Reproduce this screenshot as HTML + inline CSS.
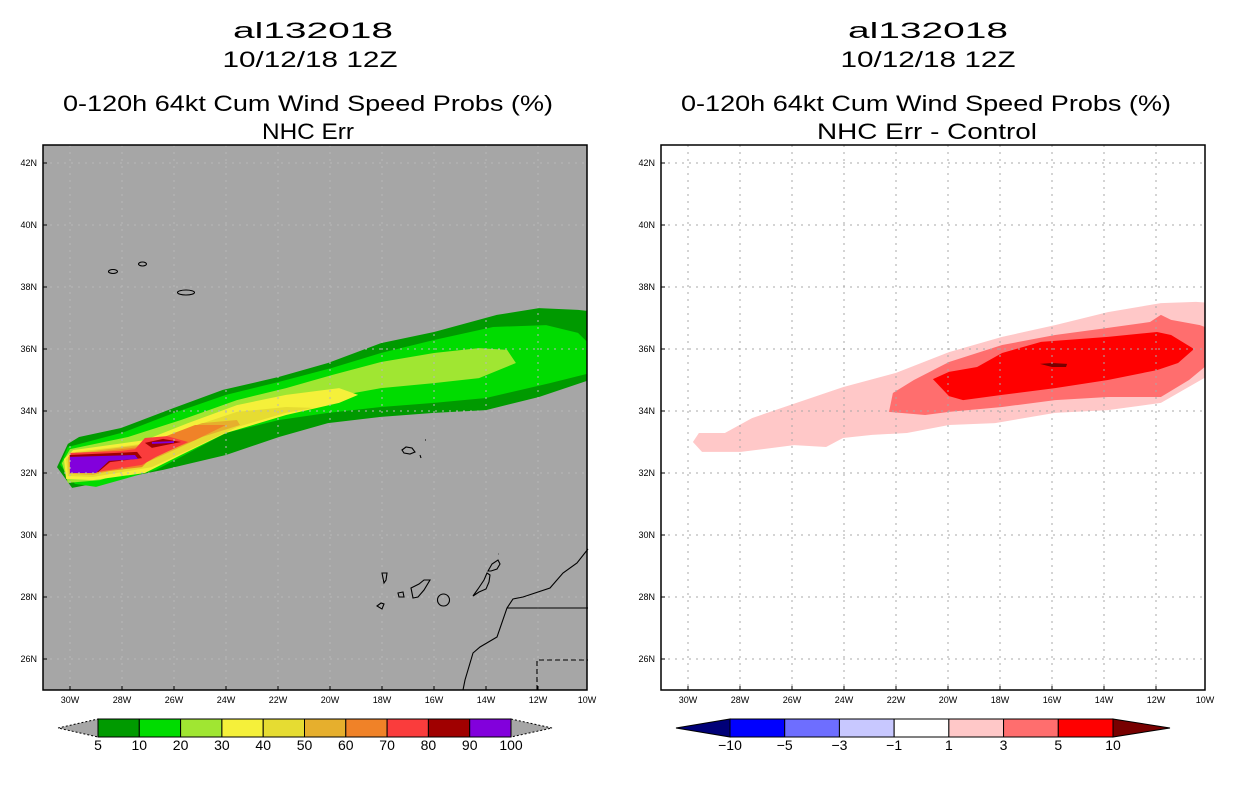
<!DOCTYPE html>
<html><head><meta charset="utf-8"><style>
html,body{margin:0;padding:0;background:#fff;}
svg{display:block;font-family:"Liberation Sans",sans-serif;}
</style></head><body>
<svg id="fig" width="1236" height="800" viewBox="0 0 1236 800" xmlns="http://www.w3.org/2000/svg">
<defs>
<clipPath id="clipL"><rect x="43" y="145" width="544" height="545"/></clipPath>
<clipPath id="clipR"><rect x="661" y="145" width="544" height="545"/></clipPath>
</defs>
<g font-size="22" text-anchor="middle" fill="#000">
<text x="313" y="38" textLength="160" lengthAdjust="spacingAndGlyphs">al132018</text>
<text x="310" y="67" textLength="175" lengthAdjust="spacingAndGlyphs">10/12/18 12Z</text>
<text x="308" y="111" textLength="490" lengthAdjust="spacingAndGlyphs">0-120h 64kt Cum Wind Speed Probs (%)</text>
<text x="308" y="139" textLength="92" lengthAdjust="spacingAndGlyphs">NHC Err</text>
<text x="928" y="38" textLength="160" lengthAdjust="spacingAndGlyphs">al132018</text>
<text x="928" y="67" textLength="175" lengthAdjust="spacingAndGlyphs">10/12/18 12Z</text>
<text x="926" y="111" textLength="490" lengthAdjust="spacingAndGlyphs">0-120h 64kt Cum Wind Speed Probs (%)</text>
<text x="927" y="139" textLength="220" lengthAdjust="spacingAndGlyphs">NHC Err - Control</text>
</g>
<rect x="43" y="145" width="544" height="545" fill="#a6a6a6"/>
<rect x="661" y="145" width="544" height="545" fill="#fff"/>
<g id="plumeL" clip-path="url(#clipL)"></g>
<g id="plumeR" clip-path="url(#clipR)"></g>
<g id="gridL" clip-path="url(#clipL)"></g>
<g id="gridR" clip-path="url(#clipR)"></g>
<g id="geo" fill="none" stroke="#000" stroke-width="1.1">
 <ellipse cx="113" cy="271.5" rx="4.5" ry="2"/>
 <ellipse cx="142.5" cy="264" rx="4" ry="2"/>
 <ellipse cx="186" cy="292.5" rx="8.5" ry="2.5"/>
 <path d="M402,450 L406,447 L412,448 L415,452 L410,454 L404,453 Z"/>
 <path d="M425,440 l1,0 M420,455 l1,3"/>
 <path d="M382,573 L387,573 L386,580 L384,583 Z"/>
 <path d="M377,606 L381,603 L384,604 L382,609 Z"/>
 <path d="M398,593 L403,592 L404,597 L399,597 Z"/>
 <path d="M411,588 L419,584 L424,580 L430,580 L424,590 L418,597 L413,598 Z"/>
 <circle cx="443.5" cy="600" r="6"/>
 <path d="M473,596 L479,592 L486,589 L489,582 L490,575 L487,573 L484,580 L478,589 Z"/>
 <path d="M488,571 L492,564 L498,560 L500,564 L497,569 L491,571 Z M498,554 l0.5,0"/>
 <path d="M463,690 L465,680 L473,653 L480,647 L497,637 L507,608 L513,599 L523,597 L550,588 L563,573 L577,563 L588,549"/>
 <path d="M507,608 L588,608"/>
 <path d="M537,690 L537,660 L588,660" stroke-dasharray="5,3"/>
</g>
<use href="#geo" x="618" y="0" clip-path="url(#clipR)"/>
<rect x="43" y="145" width="544" height="545" fill="none" stroke="#000" stroke-width="1.5"/>
<rect x="661" y="145" width="544" height="545" fill="none" stroke="#000" stroke-width="1.5"/>
<g id="axes" font-size="9" fill="#000"></g>
<g id="cbars"></g>
</svg>
<script>
// ---- data ----
const lonTicks = [30,28,26,24,22,20,18,16,14,12,10];
const latTicks = [42,40,38,36,34,32,30,28,26];
const probLevels = [5,10,20,30,40,50,60,70,80,90,100];
const diffLevels = [-10,-5,-3,-1,1,3,5,10];
// contour polygons: [lonW, latN] pairs, band index -> list of polygons
const prob5 = [[[30.5,32.19],[30.08,32.94],[29.65,33.16],[28.04,33.45],[26.0,34.10],[24.12,34.68],[21.96,35.10],[20.08,35.55],[18.04,36.19],[16.0,36.55],[13.58,37.10],[11.96,37.32],[10.46,37.26],[9.8,37.2],[9.8,35.06],[11.96,34.45],[14.0,34.03],[16.0,33.94],[18.04,33.81],[20.08,33.61],[21.96,33.16],[24.0,32.58],[26.42,32.1],[28.73,31.71],[29.92,31.52]]];
const prob10 = [[[30.08,32.84],[27.92,33.32],[26.0,33.94],[24.0,34.52],[21.96,34.94],[19.92,35.39],[18.04,35.87],[16.0,36.29],[13.73,36.71],[11.69,36.77],[10.46,36.52],[9.8,35.97],[9.8,35.26],[11.54,34.9],[14.0,34.42],[16.0,34.26],[18.04,34.13],[20.08,33.94],[21.96,33.71],[24.0,33.29],[25.73,32.52],[26.69,32.1],[29.0,31.55],[29.81,31.65],[30.38,32.26]]];
const prob20 = [[[27.77,33.16],[25.73,33.71],[23.58,34.35],[21.69,34.74],[19.92,35.16],[18.04,35.58],[16.0,35.87],[14.27,36.03],[13.19,35.97],[12.85,35.55],[14.27,35.06],[16.0,34.9],[18.04,34.74],[19.92,34.45],[21.96,34.03],[24.0,33.48],[25.73,32.84],[26.69,32.32],[28.85,31.77],[30.08,31.68],[30.31,32.32],[30.0,32.77]]];
const prob30 = [[[27.12,33.06],[25.46,33.61],[23.58,34.19],[21.69,34.52],[19.65,34.74],[18.92,34.52],[19.65,34.26],[21.69,33.87],[24.0,33.29],[25.73,32.58],[27.12,32.0],[29.12,31.77],[30.15,31.81],[30.23,32.45],[29.88,32.74]]];
const prob40 = [[[26.42,33.13],[25.35,33.48],[23.58,33.97],[21.69,34.13],[20.62,34.1],[21.69,33.94],[23.58,33.48],[25.19,32.84],[26.85,32.19],[29.12,31.87],[30.08,31.9],[30.15,32.45],[29.77,32.68],[26.92,32.97]]];
const prob50 = [[[26.0,33.29],[24.92,33.61],[23.58,33.71],[23.46,33.55],[24.92,33.16],[26.0,32.74],[27.12,32.32],[29.12,31.94],[30.04,31.97],[30.08,32.52],[29.69,32.65],[26.92,32.94]]];
const prob60 = [[[26.69,33.06],[25.19,33.55],[24.0,33.55],[25.19,33.06],[26.85,32.52],[27.23,32.19],[29.12,32.0],[30.0,32.03],[30.04,32.58],[27.31,32.84]]];
const prob70 = [[[27.12,33.13],[26.27,33.19],[25.46,33.0],[26.69,32.52],[27.23,32.26],[29.0,32.03],[30.0,32.1],[30.0,32.65],[28.04,32.71],[27.5,32.77]]];
const prob80 = [[[27.12,32.97],[26.42,33.1],[25.73,33.0],[26.85,32.81]],[[30.0,32.58],[27.42,32.68],[27.23,32.48],[28.46,32.35],[28.92,32.03],[30.0,32.03]]];
const prob90 = [[[30.0,32.52],[27.5,32.58],[27.38,32.45],[28.5,32.39],[29.0,32.0],[30.0,32.0]],[[26.85,33.0],[26.0,33.03],[26.0,32.97],[26.85,32.94]]];
const diff1 = [[[29.81,33.0],[29.58,33.29],[28.58,33.29],[27.54,33.77],[26.08,34.19],[24.04,34.77],[22.0,35.23],[19.96,35.9],[17.92,36.39],[15.88,36.77],[13.85,37.19],[11.81,37.48],[10.46,37.52],[9.8,37.48],[9.8,35.23],[11.81,34.26],[13.85,34.03],[15.88,33.94],[18.19,33.61],[19.96,33.55],[21.58,33.29],[22.92,33.23],[24.04,33.13],[24.69,32.84],[25.92,32.9],[27.96,32.68],[29.46,32.68]]];
const diff3 = [[[22.27,33.97],[22.12,34.58],[21.31,35.0],[19.96,35.58],[17.92,36.13],[15.88,36.45],[13.85,36.68],[12.23,36.87],[11.81,37.1],[11.42,36.94],[10.31,36.77],[9.8,36.61],[9.8,35.65],[10.73,35.0],[11.81,34.45],[13.85,34.45],[15.88,34.35],[17.92,34.13],[19.96,33.97],[20.88,33.87]]];
const diff5 = [[[20.58,35.03],[19.96,35.26],[18.88,35.42],[17.92,35.87],[16.42,36.23],[13.85,36.39],[11.96,36.55],[11.42,36.45],[10.54,36.0],[11.15,35.55],[11.96,35.32],[13.85,35.0],[15.88,34.74],[17.92,34.52],[19.42,34.35],[19.96,34.48]]];
const diff10 = [[[16.46,35.52],[16.0,35.55],[15.42,35.52],[15.46,35.42],[16.0,35.42]]];
const probContours = [prob5,prob10,prob20,prob30,prob40,prob50,prob60,prob70,prob80,prob90];
const diffContours = [diff1,diff3,diff5,diff10];

// ---- styles ----
const probColors = ['#009a00','#00dc00','#a0e632','#f5f03a','#e6dc32','#e6af2d','#f08228','#fa3c3c','#a00000','#8200dc'];
const diffColors = ['#000078','#0000ff','#6e6eff','#c8c8ff','#ffffff','#ffc8c8','#ff6e6e','#ff0000','#780000'];
const NS='http://www.w3.org/2000/svg';
function mk(tag,attrs,parent){const e=document.createElementNS(NS,tag);for(const k in attrs)e.setAttribute(k,attrs[k]);parent.appendChild(e);return e;}
function xMap(lonW,off){return 70+off+(30-lonW)*26;}
function yMap(lat){return 659-(lat-26)*31;}

function drawContours(list,colors,gid,off,prefix){
  const g=document.getElementById(gid);
  list.forEach((polys,i)=>{
    polys.forEach(poly=>{
      const pts=poly.map(p=>xMap(p[0],off).toFixed(1)+','+yMap(p[1]).toFixed(1)).join(' ');
      const el=mk('polygon',{points:pts,fill:colors[i]},g);
      
      
    });
  });
}
drawContours(probContours,probColors,'plumeL',0,'prob');
drawContours(diffContours,diffColors.slice(5),'plumeR',618,'diff');

function drawGrid(gid,off,color){
  const g=document.getElementById(gid);
  lonTicks.forEach(l=>{const x=xMap(l,off);
    const e=mk('line',{x1:x,x2:x,y1:145,y2:690,stroke:color,'stroke-width':1,'stroke-dasharray':'2,5'},g);
    
    });
  latTicks.forEach(l=>{const y=yMap(l);
    const e=mk('line',{x1:43+off,x2:587+off,y1:y,y2:y,stroke:color,'stroke-width':1,'stroke-dasharray':'2,5'},g);
    
    });
}
drawGrid('gridL',0,'#b8b8b8');
drawGrid('gridR',618,'#a8a8a8');

function drawAxes(off,side){
  const g=document.getElementById('axes');
  lonTicks.forEach(l=>{const x=Math.min(xMap(l,off),587+off);
    mk('line',{x1:x,x2:x,y1:690,y2:686,stroke:'#000'},g);
    const t=mk('text',{x:x,y:703,'text-anchor':'middle'},g);t.textContent=l+'W';
    
    });
  latTicks.forEach(l=>{const y=yMap(l);
    mk('line',{x1:43+off,x2:47+off,y1:y,y2:y,stroke:'#000'},g);
    const t=mk('text',{x:37+off,y:y+3,'text-anchor':'end'},g);t.textContent=l+'N';
    
    });
}
drawAxes(0,'left');drawAxes(618,'right');

function drawBar(x0,x1,tl,tr,fills,lo,hi,labels,side){
  const g=document.getElementById('cbars');
  const w=(x1-x0)/fills.length, yt=719, yb=737, ym=728;
  const a=mk('polygon',{points:`${tl},${ym} ${x0},${yt} ${x0},${yb}`,fill:lo,stroke:'#000','stroke-width':1,'stroke-dasharray':lo==='#a6a6a6'?'2,2':'none'},g);
  
  
  const b=mk('polygon',{points:`${x1},${yt} ${tr},${ym} ${x1},${yb}`,fill:hi,stroke:'#000','stroke-width':1,'stroke-dasharray':hi==='#a6a6a6'?'2,2':'none'},g);
  
  
  fills.forEach((c,i)=>{
    const r=mk('rect',{x:x0+i*w,y:yt,width:w,height:yb-yt,fill:c,stroke:'#000','stroke-width':1},g);
    
    
  });
  labels.forEach((v,i)=>{
    const t=mk('text',{x:x0+i*w,y:750,'text-anchor':'middle','font-size':14},g);
    t.textContent=String(v).replace('-','\u2212');
    
    
  });
}
drawBar(98,511,58,552,probColors,'#a6a6a6','#a6a6a6',probLevels,'left');
drawBar(730,1113,676,1170,diffColors.slice(1,8),diffColors[0],diffColors[8],diffLevels,'right');
</script>
</body></html>
